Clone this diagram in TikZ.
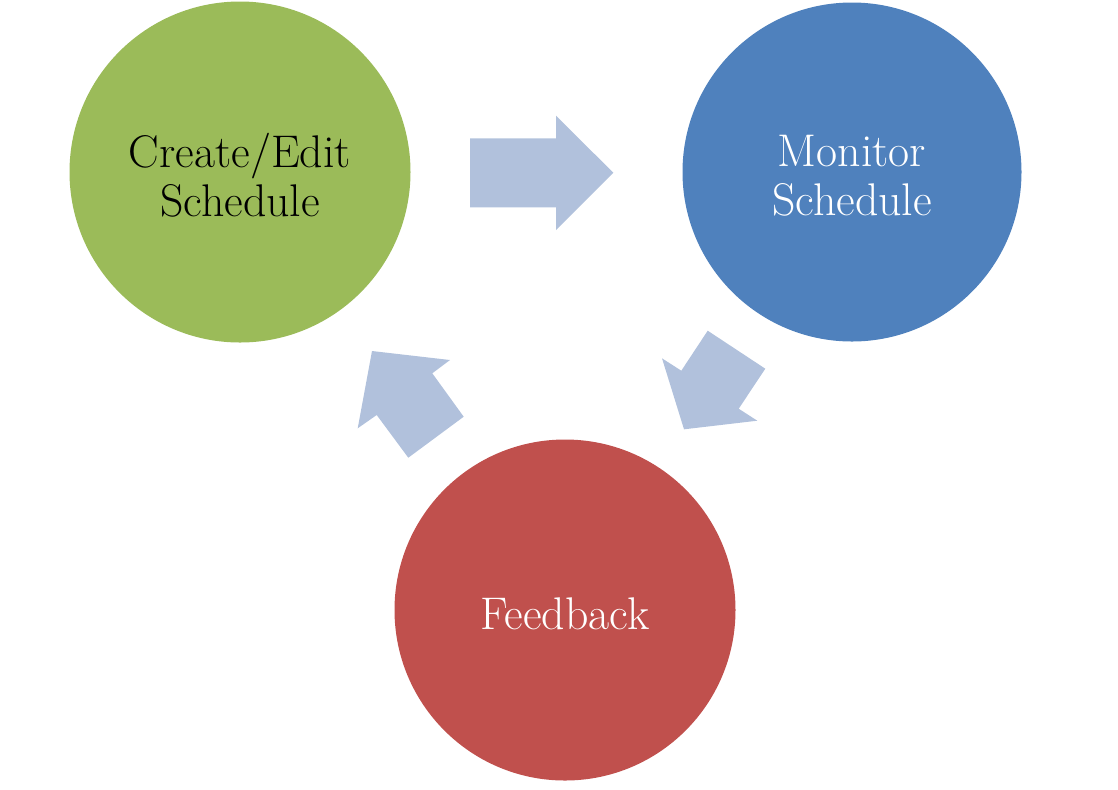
\documentclass[tikz,border=0pt]{standalone}
\begin{document}
\begin{tikzpicture}[x=0.5pt,y=-0.5pt,
  stage/.style={circle,minimum size=341pt*0.5,inner sep=0pt},
  stagetext/.style={align=center,font=\fontsize{22.9}{24.5}\selectfont,yshift=-1.8pt},
  blockarrow/.style={fill=arrowblue,draw=none}]
\definecolor{stagegreen}{HTML}{9BBB59}
\definecolor{stageblue}{HTML}{4F81BD}
\definecolor{stagered}{HTML}{C0504D}
\definecolor{arrowblue}{HTML}{B1C1DC}
\useasboundingbox (0,0) rectangle (1118,789);
\node[stage,fill=stagegreen,label={[stagetext,text=black]center:Create/Edit\\Schedule}] (create) at (240,172) {};
\node[stage,fill=stageblue,minimum size=339pt*0.5,label={[stagetext,text=white]center:Monitor\\Schedule}] (monitor) at (852,172) {};
\node[stage,fill=stagered,label={[stagetext,text=white]center:Feedback}] (feedback) at (565,610) {};
\fill[blockarrow] (470,138.3) -- (556,138.3) -- (556,115.7) -- (613.3,172.7) -- (556,230) -- (556,207.3) -- (470,207.3) -- cycle;
\fill[blockarrow] (707.7,330.7) -- (765.3,368.7) -- (738.7,408.7) -- (757.3,420.7) -- (684,429.3) -- (662,358.3) -- (681.3,370.7) -- cycle;
\fill[blockarrow] (372,351) -- (450,360) -- (432.3,373.3) -- (463.7,416.7) -- (408.3,457.7) -- (376.7,415) -- (357.7,428.3) -- cycle;
\end{tikzpicture}
\end{document}
